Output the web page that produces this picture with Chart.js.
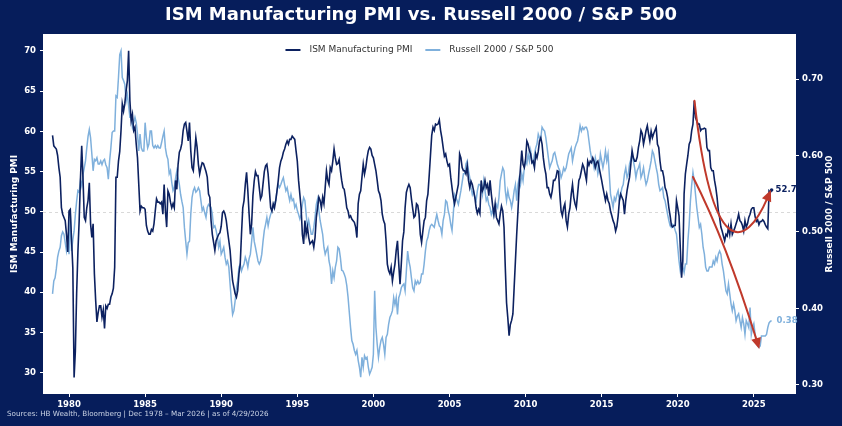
<!DOCTYPE html>
<html>
<head>
<meta charset="utf-8">
<script src="https://cdn.jsdelivr.net/npm/chart.js@4.4.1/dist/chart.umd.min.js"></script>
<style>
  html, body { margin: 0; padding: 0; background: #061d5b; }
  #wrap { position: relative; width: 842px; height: 426px; }
</style>
</head>
<body>
<div id="wrap"><canvas id="pmi-chart"></canvas></div>
<script>
// monthly series, first value is Dec 1978
const startYear = 1978;
const startMonth = 11;

const ismPmi = [
  59.5,
  58.2, 58.0, 57.8, 57.0, 55.5, 54.3, 50.5, 49.7, 49.3, 48.9, 47.2, 45.0,
  50.1, 50.3, 46.5, 43.0, 29.4, 32.7, 39.8, 45.0, 48.9, 54.0, 58.2, 54.3,
  49.3, 48.9, 50.5, 51.4, 53.6, 48.5, 46.8, 48.5, 42.3, 39.0, 36.3, 37.5,
  38.3, 38.3, 36.9, 37.8, 35.5, 38.3, 38.0, 38.5, 38.5, 39.4, 39.8, 40.5,
  43.1, 54.3, 54.3, 56.3, 57.5, 60.1, 63.4, 62.5, 63.5, 65.0, 66.3, 70.0,
  63.8, 61.3, 62.1, 60.1, 60.5, 58.4, 56.7, 53.4, 50.1, 50.7, 50.5, 50.5,
  50.3, 48.3, 47.6, 47.2, 47.2, 47.8, 47.6, 48.5, 50.1, 51.6, 51.2, 51.2,
  51.0, 51.2, 49.7, 53.4, 50.1, 48.1, 52.6, 52.2, 51.2, 50.5, 51.0, 50.5,
  53.9, 52.8, 55.9, 57.4, 57.8, 58.5, 60.1, 60.9, 61.1, 60.0, 58.8, 61.1,
  57.6, 55.5, 55.1, 57.2, 59.2, 58.0, 55.9, 54.7, 55.5, 56.1, 56.0, 55.5,
  55.0, 54.3, 52.2, 51.8, 48.9, 47.2, 46.2, 45.2, 46.4, 46.8, 47.2, 47.4,
  48.2, 49.9, 50.1, 49.7, 48.9, 47.6, 46.4, 45.2, 43.1, 41.4, 40.6, 39.8,
  39.4, 40.2, 42.3, 43.5, 47.2, 50.5, 51.4, 53.4, 54.9, 52.6, 49.7, 47.2,
  48.5, 52.0, 53.8, 55.0, 54.5, 54.5, 53.0, 51.6, 52.0, 53.5, 55.0, 55.7,
  55.9, 54.7, 52.6, 50.5, 50.1, 51.0, 50.5, 51.4, 52.6, 53.9, 55.5, 56.3,
  56.7, 57.4, 57.8, 58.4, 58.8, 58.4, 59.0, 59.0, 59.4, 59.2, 59.0, 57.6,
  56.3, 53.9, 52.2, 50.5, 47.2, 46.0, 48.9, 47.2, 48.1, 46.8, 46.0, 46.2,
  46.4, 45.6, 46.8, 49.3, 50.5, 51.8, 51.4, 50.5, 51.8, 51.0, 53.0, 55.1,
  53.9, 53.4, 55.5, 55.1, 56.3, 57.8, 56.7, 55.9, 56.0, 56.5, 55.1, 53.9,
  53.0, 52.8, 51.8, 50.5, 50.1, 49.3, 49.5, 49.1, 48.9, 48.7, 48.1, 46.8,
  51.0, 52.2, 52.6, 54.3, 55.9, 54.7, 55.5, 56.7, 57.6, 58.0, 57.8, 57.0,
  56.7, 55.9, 55.1, 53.9, 52.6, 52.2, 51.4, 49.7, 48.9, 48.5, 46.4, 43.5,
  42.7, 42.3, 43.1, 41.4, 42.5, 43.5, 45.2, 46.4, 43.5, 41.0, 43.5, 46.4,
  47.5, 50.5, 52.4, 53.0, 53.4, 53.0, 51.6, 50.4, 49.3, 49.5, 51.0, 50.8,
  49.7, 47.2, 46.2, 47.6, 48.9, 49.3, 51.4, 52.2, 54.5, 57.0, 59.5, 60.5,
  60.1, 60.9, 60.8, 60.9, 61.4, 60.1, 59.2, 58.0, 56.9, 57.2, 56.3, 55.7,
  55.9, 54.3, 53.0, 51.8, 51.0, 51.8, 52.6, 53.4, 57.2, 56.7, 55.5, 55.1,
  55.1, 54.7, 55.7, 53.9, 53.0, 53.8, 53.4, 52.6, 51.8, 50.5, 49.8, 50.3,
  49.8, 53.9, 52.6, 53.0, 53.9, 53.0, 53.4, 52.0, 53.9, 52.2, 50.8, 49.7,
  51.0, 49.3, 48.9, 48.5, 49.7, 50.7, 50.1, 48.1, 43.1, 38.7, 36.8, 34.6,
  36.0, 36.5, 37.3, 40.6, 43.9, 47.2, 50.1, 53.4, 55.5, 57.6, 55.9, 55.5,
  56.5, 58.8, 58.4, 57.6, 57.2, 56.1, 56.3, 55.5, 57.2, 56.7, 57.5, 58.8,
  59.2, 58.4, 56.7, 55.5, 54.7, 53.0, 53.0, 52.2, 51.8, 52.6, 53.9, 53.9,
  54.3, 55.1, 55.0, 52.2, 50.1, 49.5, 50.5, 51.0, 48.9, 48.1, 49.7, 50.5,
  52.2, 53.4, 51.8, 51.0, 50.5, 52.2, 53.9, 54.3, 55.1, 55.9, 55.5, 54.7,
  53.9, 56.3, 55.8, 56.3, 56.1, 56.7, 56.3, 55.5, 56.1, 56.3, 55.5, 54.7,
  53.9, 53.0, 52.2, 51.4, 52.2, 51.4, 51.0, 50.1, 49.5, 48.9, 48.5, 47.6,
  48.2, 49.5, 51.4, 52.2, 51.8, 51.4, 49.7, 51.4, 52.6, 53.5, 54.3, 55.9,
  57.6, 56.7, 56.3, 56.3, 56.8, 58.0, 58.8, 60.1, 59.7, 58.4, 59.2, 60.1,
  60.7, 59.7, 58.8, 60.0, 59.2, 59.7, 60.1, 60.5, 58.4, 58.0, 56.3, 55.1,
  55.1, 54.3, 53.0, 52.6, 51.8, 50.5, 49.5, 48.3, 48.1, 48.3, 48.3, 51.4,
  50.5, 49.5, 45.5, 41.8, 43.9, 52.2, 54.7, 55.9, 57.0, 58.4, 58.8, 60.1,
  60.9, 63.8, 61.7, 61.3, 60.9, 60.9, 60.1, 60.3, 60.3, 60.4, 60.3, 58.0,
  57.6, 57.6, 55.5, 55.1, 55.1, 53.9, 53.0, 51.8, 50.1, 49.3, 48.1, 47.6,
  47.0, 46.4, 47.2, 47.0, 48.1, 47.2, 48.5, 47.2, 47.6, 48.0, 48.5, 49.0,
  49.7, 48.9, 48.7, 48.3, 47.6, 48.9, 48.1, 48.5, 49.3, 49.7, 50.3, 50.5,
  50.5, 49.4, 48.8, 49.0, 48.4, 48.8, 48.8, 49.0, 48.8, 48.4, 48.1, 47.9,
  52.6, 52.4, 52.7
];

const rtyToSpx = [
  0.419,
  0.436, 0.440, 0.452, 0.467, 0.475, 0.480, 0.495, 0.500, 0.497, 0.486, 0.475, 0.486,
  0.471, 0.523, 0.475, 0.490, 0.501, 0.523, 0.540, 0.554, 0.552, 0.567, 0.560, 0.575,
  0.584, 0.593, 0.610, 0.625, 0.634, 0.623, 0.602, 0.580, 0.595, 0.593, 0.597, 0.589,
  0.589, 0.593, 0.588, 0.593, 0.595, 0.588, 0.584, 0.569, 0.593, 0.610, 0.630, 0.632,
  0.632, 0.678, 0.676, 0.702, 0.732, 0.737, 0.702, 0.698, 0.693, 0.671, 0.680, 0.665,
  0.650, 0.650, 0.637, 0.643, 0.650, 0.643, 0.628, 0.606, 0.628, 0.610, 0.606, 0.606,
  0.643, 0.623, 0.610, 0.615, 0.632, 0.632, 0.613, 0.610, 0.613, 0.610, 0.613, 0.610,
  0.610, 0.617, 0.625, 0.632, 0.610, 0.600, 0.595, 0.576, 0.580, 0.565, 0.554, 0.558,
  0.570, 0.580, 0.571, 0.562, 0.549, 0.540, 0.532, 0.506, 0.488, 0.471, 0.486, 0.488,
  0.523, 0.545, 0.554, 0.558, 0.552, 0.554, 0.558, 0.554, 0.541, 0.528, 0.532, 0.525,
  0.519, 0.532, 0.536, 0.534, 0.532, 0.523, 0.506, 0.508, 0.502, 0.493, 0.480, 0.488,
  0.471, 0.475, 0.480, 0.467, 0.458, 0.462, 0.454, 0.432, 0.410, 0.392, 0.397, 0.410,
  0.427, 0.436, 0.454, 0.458, 0.449, 0.454, 0.458, 0.467, 0.462, 0.454, 0.465, 0.471,
  0.488, 0.506, 0.488, 0.480, 0.471, 0.462, 0.458, 0.462, 0.471, 0.488, 0.502, 0.510,
  0.519, 0.508, 0.517, 0.523, 0.528, 0.532, 0.538, 0.541, 0.554, 0.562, 0.558, 0.562,
  0.567, 0.571, 0.562, 0.554, 0.558, 0.549, 0.541, 0.549, 0.541, 0.543, 0.532, 0.536,
  0.528, 0.523, 0.517, 0.523, 0.536, 0.545, 0.541, 0.523, 0.506, 0.515, 0.506, 0.497,
  0.497, 0.506, 0.519, 0.536, 0.543, 0.528, 0.515, 0.506, 0.497, 0.480, 0.471, 0.476,
  0.480, 0.462, 0.454, 0.432, 0.449, 0.440, 0.454, 0.462, 0.480, 0.478, 0.466, 0.450,
  0.449, 0.445, 0.440, 0.430, 0.415, 0.395, 0.375, 0.358, 0.353, 0.345, 0.340, 0.345,
  0.332, 0.323, 0.310, 0.336, 0.323, 0.338, 0.334, 0.336, 0.323, 0.314, 0.318, 0.323,
  0.340, 0.423, 0.375, 0.353, 0.336, 0.349, 0.358, 0.362, 0.353, 0.340, 0.362, 0.366,
  0.379, 0.388, 0.392, 0.397, 0.414, 0.405, 0.414, 0.392, 0.414, 0.419, 0.427, 0.430,
  0.432, 0.423, 0.449, 0.475, 0.462, 0.454, 0.440, 0.427, 0.423, 0.436, 0.432, 0.436,
  0.432, 0.434, 0.445, 0.445, 0.458, 0.475, 0.488, 0.493, 0.502, 0.508, 0.510, 0.508,
  0.506, 0.515, 0.523, 0.515, 0.508, 0.506, 0.497, 0.515, 0.523, 0.541, 0.539, 0.528,
  0.521, 0.510, 0.502, 0.523, 0.549, 0.545, 0.541, 0.536, 0.545, 0.554, 0.565, 0.576,
  0.576, 0.589, 0.593, 0.580, 0.571, 0.558, 0.549, 0.554, 0.545, 0.541, 0.554, 0.562,
  0.562, 0.558, 0.549, 0.567, 0.554, 0.541, 0.545, 0.536, 0.532, 0.523, 0.528, 0.521,
  0.528, 0.536, 0.532, 0.545, 0.567, 0.576, 0.584, 0.580, 0.554, 0.541, 0.554, 0.545,
  0.541, 0.532, 0.541, 0.554, 0.562, 0.541, 0.562, 0.571, 0.562, 0.576, 0.567, 0.584,
  0.593, 0.589, 0.602, 0.593, 0.606, 0.593, 0.589, 0.602, 0.610, 0.615, 0.628, 0.623,
  0.623, 0.637, 0.634, 0.632, 0.623, 0.610, 0.597, 0.584, 0.589, 0.593, 0.602, 0.604,
  0.597, 0.589, 0.584, 0.580, 0.571, 0.576, 0.584, 0.580, 0.584, 0.593, 0.602, 0.606,
  0.610, 0.593, 0.602, 0.610, 0.615, 0.619, 0.628, 0.639, 0.632, 0.637, 0.634, 0.637,
  0.637, 0.632, 0.619, 0.606, 0.597, 0.593, 0.584, 0.597, 0.589, 0.576, 0.584, 0.602,
  0.593, 0.584, 0.593, 0.606, 0.593, 0.602, 0.576, 0.549, 0.541, 0.532, 0.545, 0.541,
  0.549, 0.554, 0.541, 0.549, 0.558, 0.562, 0.576, 0.584, 0.571, 0.576, 0.589, 0.595,
  0.602, 0.593, 0.584, 0.571, 0.580, 0.584, 0.589, 0.571, 0.576, 0.584, 0.571, 0.562,
  0.567, 0.576, 0.584, 0.593, 0.606, 0.602, 0.593, 0.584, 0.576, 0.562, 0.554, 0.556,
  0.558, 0.545, 0.541, 0.532, 0.523, 0.515, 0.508, 0.506, 0.510, 0.508, 0.502, 0.497,
  0.480, 0.462, 0.449, 0.458, 0.454, 0.447, 0.458, 0.458, 0.488, 0.510, 0.541, 0.562,
  0.578, 0.567, 0.549, 0.532, 0.519, 0.506, 0.510, 0.497, 0.480, 0.471, 0.454, 0.449,
  0.449, 0.454, 0.454, 0.454, 0.462, 0.458, 0.467, 0.462, 0.471, 0.475, 0.471, 0.458,
  0.449, 0.436, 0.423, 0.419, 0.432, 0.419, 0.406, 0.397, 0.406, 0.397, 0.384, 0.390,
  0.393, 0.384, 0.375, 0.388, 0.380, 0.366, 0.384, 0.380, 0.375, 0.401, 0.366, 0.375,
  0.380, 0.366, 0.358, 0.351, 0.349, 0.351, 0.364, 0.364, 0.364, 0.364, 0.366, 0.375,
  0.381, 0.383, 0.384
];

const yearTicks = [1980, 1985, 1990, 1995, 2000, 2005, 2010, 2015, 2020, 2025];
const pmiTicks = [30, 35, 40, 45, 50, 55, 60, 65, 70];
const ratioTicks = [0.30, 0.40, 0.50, 0.60, 0.70];

// red annotation arrows, in data units (year, axis value)
const pmiArrow = [[2021.1, 63.8], [2022.25, 44.0], [2024.42, 45.2], [2026.12, 52.7]];
const ratioArrow = [[2021.0, 0.572], [2023.2, 0.486], [2025.36, 0.347]];

const NAVY = '#061d5b';
const PMI_COLOR = '#0c2160';
const RATIO_COLOR = '#7fb0dc';
const ARROW_RED = '#c0392b';
const FONT = "'DejaVu Sans', sans-serif";

const toPoints = (values) => values.map((v, i) => ({
  x: startYear + (startMonth + i) / 12,
  y: v
}));

function drawArrowHead(ctx, tip, from, len, half) {
  const ang = Math.atan2(tip.y - from.y, tip.x - from.x);
  ctx.beginPath();
  ctx.moveTo(tip.x, tip.y);
  ctx.lineTo(tip.x - len * Math.cos(ang) + half * Math.sin(ang), tip.y - len * Math.sin(ang) - half * Math.cos(ang));
  ctx.lineTo(tip.x - len * Math.cos(ang) - half * Math.sin(ang), tip.y - len * Math.sin(ang) + half * Math.cos(ang));
  ctx.closePath();
  ctx.fill();
}

const decorations = {
  id: 'decorations',
  beforeDraw(chart) {
    const { ctx, chartArea: a, width, height } = chart;
    ctx.save();
    ctx.fillStyle = NAVY;
    ctx.fillRect(0, 0, width, height);
    ctx.fillStyle = '#ffffff';
    ctx.fillRect(a.left, a.top, a.right - a.left, a.bottom - a.top);
    ctx.restore();
  },
  beforeDatasetsDraw(chart) {
    const { ctx, chartArea: a, scales } = chart;
    const y = Math.round(scales.y.getPixelForValue(50)) + 0.5;
    ctx.save();
    ctx.strokeStyle = '#d9d9d9';
    ctx.lineWidth = 1;
    ctx.setLineDash([3, 3]);
    ctx.beginPath();
    ctx.moveTo(a.left, y);
    ctx.lineTo(a.right, y);
    ctx.stroke();
    ctx.restore();
  },
  afterDatasetsDraw(chart) {
    const { ctx, scales } = chart;
    const px = (p, axis) => ({ x: scales.x.getPixelForValue(p[0]), y: scales[axis].getPixelForValue(p[1]) });
    ctx.save();
    ctx.strokeStyle = ARROW_RED;
    ctx.fillStyle = ARROW_RED;
    ctx.lineWidth = 2;
    ctx.lineCap = 'round';

    // curved arrow on the PMI
    const [a0, a1, a2, a3] = pmiArrow.map(p => px(p, 'y'));
    const d1 = Math.hypot(a3.x - a2.x, a3.y - a2.y);
    const back1 = { x: a3.x - (a3.x - a2.x) / d1 * 8, y: a3.y - (a3.y - a2.y) / d1 * 8 };
    ctx.beginPath();
    ctx.moveTo(a0.x, a0.y);
    ctx.bezierCurveTo(a1.x, a1.y, a2.x, a2.y, back1.x, back1.y);
    ctx.stroke();
    drawArrowHead(ctx, a3, a2, 11, 5);

    // falling arrow on the ratio
    const [b0, b1, b2] = ratioArrow.map(p => px(p, 'y1'));
    const d2 = Math.hypot(b2.x - b1.x, b2.y - b1.y);
    const back2 = { x: b2.x - (b2.x - b1.x) / d2 * 8, y: b2.y - (b2.y - b1.y) / d2 * 8 };
    ctx.beginPath();
    ctx.moveTo(b0.x, b0.y);
    ctx.quadraticCurveTo(b1.x, b1.y, back2.x, back2.y);
    ctx.stroke();
    drawArrowHead(ctx, b2, b1, 11, 5);

    // last-value labels
    const lastI = ismPmi.length - 1;
    const lx = scales.x.getPixelForValue(startYear + (startMonth + lastI) / 12);
    ctx.font = 'bold 8.5px ' + FONT;
    ctx.textBaseline = 'middle';
    ctx.textAlign = 'left';
    ctx.fillStyle = PMI_COLOR;
    ctx.fillText(ismPmi[lastI].toFixed(1), lx + 4, scales.y.getPixelForValue(ismPmi[lastI]));
    const lastR = rtyToSpx.length - 1;
    ctx.fillStyle = RATIO_COLOR;
    ctx.fillText(rtyToSpx[lastR].toFixed(2), lx + 5, scales.y1.getPixelForValue(rtyToSpx[lastR]));
    ctx.restore();
  },
  afterDraw(chart) {
    const { ctx, chartArea: a, width } = chart;
    ctx.save();
    ctx.fillStyle = '#ffffff';
    ctx.textAlign = 'center';
    ctx.textBaseline = 'middle';
    ctx.font = 'bold 18px ' + FONT;
    ctx.fillText('ISM Manufacturing PMI vs. Russell 2000 / S&P 500', width / 2, 15);

    // axis titles
    const midY = (a.top + a.bottom) / 2;
    ctx.font = 'bold 9px ' + FONT;
    ctx.save();
    ctx.translate(15, midY);
    ctx.rotate(-Math.PI / 2);
    ctx.fillText('ISM Manufacturing PMI', 0, 0);
    ctx.restore();
    ctx.save();
    ctx.translate(830, midY);
    ctx.rotate(-Math.PI / 2);
    ctx.fillText('Russell 2000 / S&P 500', 0, 0);
    ctx.restore();

    // legend
    ctx.font = '9px ' + FONT;
    ctx.textAlign = 'left';
    const items = chart.data.datasets.map(d => ({ text: d.label, color: d.borderColor }));
    const handle = 15, gap = 9, between = 13;
    const widths = items.map(it => ctx.measureText(it.text).width);
    const total = widths.reduce((s, w) => s + handle + gap + w, 0) + between;
    let x = (a.left + a.right) / 2 - total / 2;
    const ly = a.top + 16;
    items.forEach((it, i) => {
      ctx.strokeStyle = it.color;
      ctx.lineWidth = 2;
      ctx.beginPath();
      ctx.moveTo(x, ly);
      ctx.lineTo(x + handle, ly);
      ctx.stroke();
      ctx.fillStyle = '#333333';
      ctx.fillText(it.text, x + handle + gap, ly);
      x += handle + gap + widths[i] + between;
    });

    // footer
    ctx.font = '7.2px ' + FONT;
    ctx.fillStyle = '#c9d2e4';
    ctx.fillText('Sources: HB Wealth, Bloomberg | Dec 1978 \u2013 Mar 2026 | as of 4/29/2026', 7, 414);
    ctx.restore();
  }
};

const tickFont = { family: FONT, size: 8.5, weight: 'bold' };

const config = {
  type: 'line',
  data: {
    datasets: [
      {
        label: 'ISM Manufacturing PMI',
        data: toPoints(ismPmi),
        yAxisID: 'y',
        borderColor: PMI_COLOR,
        borderWidth: 1.6,
        pointRadius: (c) => (c.dataIndex === ismPmi.length - 1 ? 1.8 : 0),
        pointBackgroundColor: PMI_COLOR,
        pointBorderWidth: 0,
        tension: 0,
        fill: false
      },
      {
        label: 'Russell 2000 / S&P 500',
        data: toPoints(rtyToSpx),
        yAxisID: 'y1',
        borderColor: RATIO_COLOR,
        borderWidth: 1.5,
        pointRadius: 0,
        tension: 0,
        fill: false
      }
    ]
  },
  options: {
    responsive: true,
    maintainAspectRatio: false,
    animation: false,
    layout: { padding: { top: 34, left: 0, right: 0, bottom: 0 } },
    plugins: {
      legend: { display: false },
      tooltip: { enabled: false },
      title: { display: false }
    },
    scales: {
      x: {
        type: 'linear',
        min: 1978.29,
        max: 2027.77,
        afterBuildTicks: (s) => { s.ticks = yearTicks.map(v => ({ value: v })); },
        afterFit: (s) => { s.height = 32; },
        grid: { drawOnChartArea: false, drawTicks: true, tickLength: 3, tickColor: '#ffffff' },
        border: { display: false },
        ticks: { color: '#ffffff', font: tickFont, padding: 3, autoSkip: false, maxRotation: 0, callback: (v) => String(v) }
      },
      y: {
        position: 'left',
        min: 27.35,
        max: 72.1,
        afterBuildTicks: (s) => { s.ticks = pmiTicks.map(v => ({ value: v })); },
        afterFit: (s) => { s.width = 43; },
        grid: { drawOnChartArea: false, drawTicks: true, tickLength: 3, tickColor: '#ffffff' },
        border: { display: false },
        ticks: { color: '#ffffff', font: tickFont, padding: 4, autoSkip: false, callback: (v) => String(v) }
      },
      y1: {
        position: 'right',
        min: 0.288,
        max: 0.759,
        afterBuildTicks: (s) => { s.ticks = ratioTicks.map(v => ({ value: v })); },
        afterFit: (s) => { s.width = 46; },
        grid: { drawOnChartArea: false, drawTicks: true, tickLength: 3, tickColor: '#ffffff' },
        border: { display: false },
        ticks: { color: '#ffffff', font: tickFont, padding: 3, autoSkip: false, callback: (v) => v.toFixed(2) }
      }
    }
  },
  plugins: [decorations]
};

new Chart(document.getElementById('pmi-chart').getContext('2d'), config);
</script>
</body>
</html>
